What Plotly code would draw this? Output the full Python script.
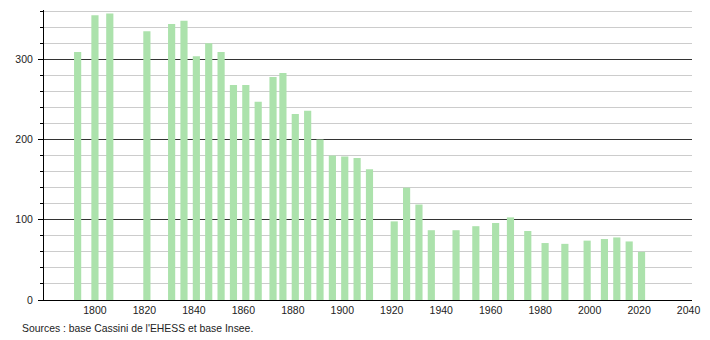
import plotly.graph_objects as go

years = [1793, 1800, 1806, 1821, 1831, 1836, 1841, 1846, 1851, 1856, 1861, 1866,
         1872, 1876, 1881, 1886, 1891, 1896, 1901, 1906, 1911, 1921, 1926, 1931,
         1936, 1946, 1954, 1962, 1968, 1975, 1982, 1990, 1999, 2006, 2011, 2016, 2021]
population = [309, 355, 357, 335, 344, 348, 304, 320, 309, 268, 268, 247,
              278, 283, 232, 236, 200, 180, 179, 177, 163, 98, 140, 119,
              87, 87, 92, 96, 103, 86, 71, 70, 74, 76, 78, 73, 60]
x_ticks = list(range(1800, 2041, 20))
y_ticks = [0, 100, 200, 300]
source_text = "Sources : base Cassini de l'EHESS et base Insee."

fig = go.Figure()
fig.add_trace(go.Bar(
    x=years, y=population, width=2.9,
    marker=dict(color="rgb(172,226,172)", line=dict(width=0)),
    hoverinfo="x+y",
))

fig.update_layout(
    width=710, height=340,
    margin=dict(l=44, r=10, t=10, b=40),
    paper_bgcolor="white", plot_bgcolor="white",
    showlegend=False,
    font=dict(family="Liberation Sans, Arial, sans-serif", size=11, color="#222"),
    xaxis=dict(
        range=[1779.4, 2041.4],
        tickvals=x_ticks,
        ticks="", showgrid=False, zeroline=False,
        showline=True, linecolor="black", linewidth=1,
        tickfont=dict(size=10.5, color="#222"),
    ),
    yaxis=dict(
        range=[0, 361.5],
        tickvals=y_ticks,
        ticks="outside", ticklen=5, tickcolor="black", tickwidth=1,
        ticklabelstandoff=3,
        showgrid=True, gridcolor="#333", gridwidth=1,
        zeroline=False,
        showline=True, linecolor="black", linewidth=1,
        tickfont=dict(size=10.5, color="#222"),
        minor=dict(dtick=20, tick0=0, ticks="outside", ticklen=3, tickcolor="black",
                   showgrid=True, gridcolor="#cccccc", gridwidth=1),
    ),
    annotations=[dict(
        text=source_text, xref="paper", yref="paper",
        x=(20 - 44) / 656, y=(300 - 328) / 290,
        xanchor="left", yanchor="middle", showarrow=False,
        font=dict(size=10.4, color="#222"),
    )],
)

fig.write_html("out.html")
